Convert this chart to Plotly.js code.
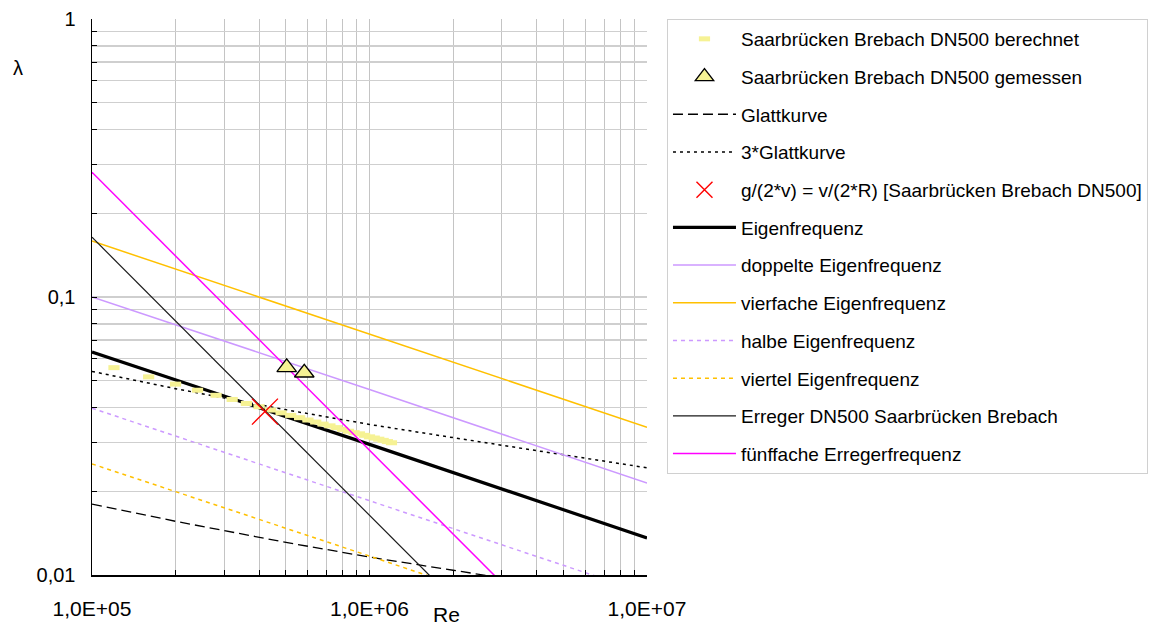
<!DOCTYPE html>
<html>
<head>
<meta charset="utf-8">
<script src="https://cdn.plot.ly/plotly-3.0.1.min.js"></script>
<style>html,body{margin:0;padding:0;background:#fff;}#chart{width:1162px;height:626px;}</style>
</head>
<body>
<div id="chart"></div>
<script>
// ---- data ----
var reLine = [1e5, 1e6, 1e7];
var eigen = [0.0634, 0.0295, 0.0136];
var doppelt = [0.100, 0.0465, 0.0214];
var vierfach = [0.159, 0.0737, 0.0340];
var halb = [0.0398, 0.0185, 0.0086];
var viertel = [0.0251, 0.0117, 0.0054];
var erreger = [0.164, 0.0164, 0.00164];
var fuenffach = [0.281, 0.0281, 0.00281];

var reGlatt = [1e5, 2e5, 5e5, 1e6, 2e6, 5e6, 1e7];
var glatt = [0.0180, 0.0156, 0.0131, 0.0116, 0.0104, 0.0090, 0.0081];
var glatt3 = [0.0540, 0.0468, 0.0393, 0.0348, 0.0312, 0.0270, 0.0243];

var reBer = [1.2e5, 1.6e5, 2.0e5, 2.4e5, 2.8e5, 3.2e5, 3.6e5, 4.0e5, 4.4e5, 4.8e5,
             5.2e5, 5.6e5, 6.0e5, 6.4e5, 6.8e5, 7.2e5, 7.6e5, 8.0e5, 8.4e5, 8.8e5,
             9.2e5, 9.6e5, 1.0e6, 1.04e6, 1.08e6, 1.12e6, 1.16e6, 1.2e6];
var lamBer = [0.0557, 0.0516, 0.0486, 0.0462, 0.0443, 0.0428, 0.0414, 0.0403, 0.0392, 0.0383,
              0.0375, 0.0368, 0.0361, 0.0355, 0.0349, 0.0344, 0.0339, 0.0334, 0.0329, 0.0325,
              0.0322, 0.0318, 0.0314, 0.0311, 0.0308, 0.0305, 0.0302, 0.0299];

var reGem = [5.03e5, 5.82e5];
var lamGem = [0.0558, 0.0534];

var reKreuz = [4.2e5];
var lamKreuz = [0.0387];

var xTickVals = [1e5,2e5,3e5,4e5,5e5,6e5,7e5,8e5,9e5,1e6,2e6,3e6,4e6,5e6,6e6,7e6,8e6,9e6,1e7];
var xTickText = ['1,0E+05','','','','','','','','','1,0E+06','','','','','','','','','1,0E+07'];
var yTickVals = [0.01,0.02,0.03,0.04,0.05,0.06,0.07,0.08,0.09,0.1,0.2,0.3,0.4,0.5,0.6,0.7,0.8,0.9,1];
var yTickText = ['0,01','','','','','','','','','0,1','','','','','','','','','1'];

var names = ['Saarbrücken Brebach DN500 berechnet', 'Saarbrücken Brebach DN500 gemessen', 'Glattkurve',
  '3*Glattkurve', 'g/(2*v) = v/(2*R) [Saarbrücken Brebach DN500]', 'Eigenfrequenz',
  'doppelte Eigenfrequenz', 'vierfache Eigenfrequenz', 'halbe Eigenfrequenz', 'viertel Eigenfrequenz',
  'Erreger DN500 Saarbrücken Brebach', 'fünffache Erregerfrequenz'];

function lineTrace(i, x, y, color, width, dash) {
  return {x: x, y: y, type: 'scatter', mode: 'lines', name: names[i], legendrank: i + 1,
    legendgroup: 'g' + i, line: {color: color, width: width, dash: dash}, hoverinfo: 'x+y'};
}

var traces = [
  lineTrace(2, reGlatt, glatt, '#000000', 1.3, '10px,5px'),
  lineTrace(3, reGlatt, glatt3, '#000000', 1.5, '3px,4px'),
  lineTrace(5, reLine, eigen, '#000000', 3.2, 'solid'),
  lineTrace(6, reLine, doppelt, '#CC99FF', 1.5, 'solid'),
  lineTrace(7, reLine, vierfach, '#FFC000', 1.5, 'solid'),
  lineTrace(8, reLine, halb, '#CC99FF', 1.5, '4px,4px'),
  lineTrace(9, reLine, viertel, '#FFC000', 1.5, '4px,4px'),
  {x: reBer, y: lamBer, type: 'scatter', mode: 'markers', name: names[0], legendrank: 1, legendgroup: 'g0',
    marker: {symbol: 'line-ew', size: 8, color: '#F6F294', line: {color: '#F6F294', width: 5}}},
  lineTrace(10, reLine, erreger, '#1a1a1a', 1.2, 'solid'),
  lineTrace(11, reLine, fuenffach, '#FF00FF', 1.5, 'solid'),
  {x: reGem, y: lamGem, type: 'scatter', mode: 'markers', name: names[1], legendrank: 2, legendgroup: 'g1',
    marker: {symbol: 'triangle-up', size: 17, color: '#F6F294', line: {color: '#000000', width: 1.3}}},
  {x: reKreuz, y: lamKreuz, type: 'scatter', mode: 'markers', name: names[4], legendrank: 5, legendgroup: 'g4',
    marker: {symbol: 'x-thin', size: 26, color: '#FF0000', line: {color: '#FF0000', width: 1.4}}}
];

var font = 'Liberation Sans, Arial, sans-serif';
var layout = {
  width: 1162, height: 626,
  margin: {l: 92, r: 515, t: 19, b: 51, pad: 0},
  paper_bgcolor: '#ffffff', plot_bgcolor: '#ffffff',
  font: {family: font, color: '#000000', size: 19},
  showlegend: true,
  legend: {x: 1.036, y: 1, xanchor: 'left', yanchor: 'top', bgcolor: '#ffffff',
    bordercolor: '#d0d0d0', borderwidth: 1, font: {family: font, size: 19, color: '#000'},
    traceorder: 'grouped', tracegroupgap: 10, itemwidth: 63},
  xaxis: {type: 'log', range: [5, 7], tickmode: 'array', tickvals: xTickVals, ticktext: xTickText,
    showgrid: true, gridcolor: '#c4c4c4', gridwidth: 1, showline: true, linecolor: '#000', linewidth: 1.5,
    ticks: 'inside', ticklen: 5, tickcolor: '#000', tickwidth: 1, zeroline: false,
    tickfont: {family: font, size: 21, color: '#000'}, ticklabelstandoff: 14},
  yaxis: {type: 'log', range: [-2, 0], tickmode: 'array', tickvals: yTickVals, ticktext: yTickText,
    showgrid: true, gridcolor: '#cfcfcf', gridwidth: 1.5, showline: true, linecolor: '#000', linewidth: 1.5,
    ticks: 'inside', ticklen: 5, tickcolor: '#000', tickwidth: 1, zeroline: false,
    tickfont: {family: font, size: 20, color: '#000'}, ticklabelstandoff: 11},
  annotations: [
    {text: 'λ', xref: 'paper', yref: 'paper', x: (18 - 92) / 555, y: 1 - (68 - 19) / 556,
      xanchor: 'center', yanchor: 'middle', showarrow: false, font: {family: font, size: 20, color: '#000'}},
    {text: 'Re', xref: 'paper', yref: 'paper', x: (446 - 92) / 555, y: -(614 - 575) / 556,
      xanchor: 'center', yanchor: 'middle', showarrow: false, font: {family: font, size: 21, color: '#000'}}
  ]
};

Plotly.newPlot('chart', traces, layout, {displayModeBar: false, staticPlot: true});
</script>
</body>
</html>
